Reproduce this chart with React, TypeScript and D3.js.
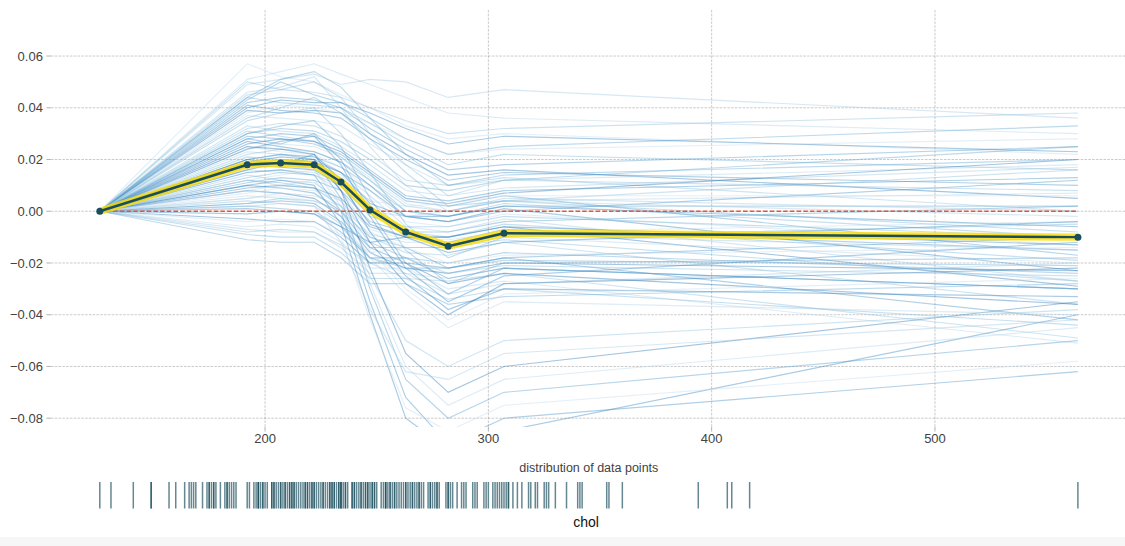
import React, { useEffect } from "react";
import * as d3 from "d3";

// ---------- DATA ----------
const featureName = "chol";
const gridPoints = [126, 192, 207, 222, 234, 247, 263, 282, 307, 564];
const xTicks = [200, 300, 400, 500];
const yTicks = [-0.08, -0.06, -0.04, -0.02, 0.0, 0.02, 0.04, 0.06];

// PDP (average) line
const pdpValues = [0.0, 0.018, 0.0187, 0.018, 0.0113, 0.0005, -0.008, -0.0135, -0.0085, -0.01];

// ICE lines (centered), in thousandths (x 1e-3), one row per instance
const iceLinesMilli = [
  [0, 57, 52, 50, 45, 40, 33, 28, 30, 22],
  [0, 51, 54, 57, 53, 49, 44, 38, 36, 30],
  [0, 49, 51, 53, 49, 51, 50, 44, 47, 36],
  [0, 45, 47, 46, 44, 40, 35, 30, 32, 38],
  [0, 44, 42, 41, 40, 34, 26, 18, 22, 16],
  [0, 43, 50, 45, 42, 36, 28, 22, 25, 33],
  [0, 42, 44, 43, 40, 32, 24, 16, 18, 25],
  [0, 41, 39, 38, 36, 28, 20, 12, 15, 10],
  [0, 40, 43, 42, 42, 38, 32, 26, 29, 23],
  [0, 39, 38, 39, 38, 30, 22, 14, 16, 5],
  [0, 38, 41, 40, 38, 34, 28, 22, 24, 28],
  [0, 37, 36, 35, 33, 26, 18, 10, 12, 18],
  [0, 33, 31, 30, 25, 18, 8, 6, 9, 17],
  [0, 32, 34, 33, 29, 22, 12, 10, 13, 0],
  [0, 31, 29, 27, 21, 12, 0, -2, 3, -10],
  [0, 30, 32, 31, 27, 20, 10, 8, 12, 25],
  [0, 29, 28, 26, 22, 14, 4, 2, 6, -17],
  [0, 28, 30, 29, 24, 16, 6, 4, 8, 13],
  [0, 27, 25, 23, 19, 10, -2, -4, 1, -23],
  [0, 26, 28, 27, 23, 15, 5, 3, 7, 20],
  [0, 25, 23, 22, 17, 8, -4, -6, -1, -13],
  [0, 24, 26, 25, 21, 13, 3, 0, 4, 7],
  [0, 23, 22, 21, 15, 6, -6, -8, -3, -27],
  [0, 22, 24, 23, 19, 12, 2, 0, 4, 16],
  [0, 21, 20, 19, 13, 4, -8, -10, -5, -19],
  [0, 20, 22, 21, 17, 10, 0, -2, 2, 2],
  [0, 19, 18, 17, 11, 2, -10, -12, -7, -15],
  [0, 18, 20, 19, 15, 8, -2, -4, 0, 12],
  [0, 19, 21, 20, 15, 3, -2, -2, 2, -6],
  [0, 18, 17, 16, 10, -5, -10, -10, -6, -29],
  [0, 17, 19, 18, 14, 4, 2, 3, 6, 6],
  [0, 16, 15, 14, 8, -8, -14, -14, -10, -20],
  [0, 15, 16, 15, 11, 0, -2, 0, 4, -2],
  [0, 14, 12, 11, 4, -10, -16, -17, -12, -36],
  [0, 13, 15, 14, 10, -2, -6, -6, -2, -10],
  [0, 12, 11, 9, 2, -12, -18, -20, -16, -24],
  [0, 11, 13, 12, 8, -4, -8, -8, -4, 2],
  [0, 10, 9, 7, 0, -14, -20, -22, -18, -42],
  [0, 9, 10, 9, 5, -6, -10, -10, -6, -13],
  [0, 8, 7, 5, -2, -16, -22, -24, -20, -23],
  [0, 7, 9, 8, 4, -7, -11, -11, -8, -4],
  [0, 6, 5, 3, -4, -18, -24, -26, -22, -30],
  [0, 5, 7, 6, 2, -9, -12, -12, -9, -15],
  [0, 4, 3, 2, -5, -20, -26, -27, -24, -49],
  [0, 3, 5, 4, 0, -10, -14, -14, -11, -27],
  [0, 2, 1, 0, -6, -18, -22, -22, -19, -21],
  [0, 3, 4, 3, -4, -14, -14, -22, -18, -10],
  [0, 1, 0, -1, -8, -18, -18, -26, -22, -30],
  [0, -1, 0, -1, -6, -12, -10, -16, -12, -4],
  [0, -3, -4, -4, -10, -20, -20, -28, -24, -36],
  [0, -4, -3, -4, -9, -16, -14, -20, -17, -14],
  [0, -6, -5, -6, -12, -22, -22, -30, -27, -51],
  [0, -7, -8, -8, -14, -24, -24, -32, -28, -20],
  [0, -8, -7, -8, -13, -20, -18, -24, -21, -25],
  [0, -9, -10, -10, -16, -26, -26, -34, -30, -44],
  [0, -11, -12, -12, -18, -28, -28, -36, -33, -28],
  [0, 20, 22, 20, 5, -30, -65, -80, -70, -50],
  [0, 15, 16, 14, 0, -35, -72, -90, -80, -62],
  [0, 10, 12, 10, -5, -40, -80, -92, -85, -40],
  [0, 25, 24, 22, 8, -22, -55, -70, -60, -35],
  [0, 5, 6, 4, -10, -42, -76, -85, -75, -58],
  [0, 18, 18, 16, 2, -28, -60, -75, -65, -45],
  [0, 2, 3, 2, -12, -38, -62, -65, -55, -42],
  [0, 12, 10, 9, -2, -25, -50, -60, -50, -38],
  [0, 35, 38, 40, 30, 15, -5, -18, -10, -5],
  [0, 30, 33, 35, 25, 5, -15, -28, -20, -18],
  [0, 28, 26, 30, 20, 0, -20, -32, -22, -30],
  [0, 24, 27, 29, 18, -2, -22, -35, -25, -12],
  [0, 20, 18, 22, 12, -8, -25, -38, -30, -33],
  [0, 16, 19, 20, 8, -12, -28, -40, -28, -22],
  [0, 12, 14, 16, 4, -15, -30, -42, -32, -26],
  [0, 8, 10, 12, 0, -18, -32, -45, -35, -40],
  [0, 46, 48, 52, 40, 25, 10, 0, 5, 0],
  [0, 50, 47, 50, 44, 30, 18, 6, 12, 8],
  [0, 36, 40, 44, 38, 28, 15, 2, 4, -8],
  [0, 44, 51, 54, 48, 36, 22, 10, 14, 20],
];

// observed chol values (rug / distribution of data points)
const cholValues = [
  126, 131, 141, 149, 149, 157, 160, 164, 166, 167, 168, 169, 172, 174, 175, 175, 176, 177, 177, 178,
  180, 182, 183, 183, 184, 185, 186, 187, 192, 193, 195, 196, 197, 197, 197, 198, 199, 199, 200, 201,
  203, 203, 204, 204, 205, 206, 207, 207, 208, 209, 209, 210, 211, 211, 212, 212, 213, 213, 214, 215,
  216, 217, 218, 218, 219, 219, 220, 221, 221, 222, 222, 223, 224, 225, 226, 226, 227, 228, 229, 229,
  230, 230, 231, 231, 232, 233, 233, 234, 234, 234, 235, 236, 236, 237, 239, 239, 240, 240, 241, 242,
  243, 243, 244, 245, 245, 246, 246, 247, 248, 248, 249, 249, 250, 252, 253, 254, 254, 254, 255, 256,
  256, 257, 258, 258, 259, 260, 261, 262, 263, 263, 264, 265, 266, 266, 267, 268, 269, 269, 270, 271,
  273, 274, 274, 275, 276, 277, 277, 278, 281, 282, 282, 283, 284, 286, 288, 289, 290, 293, 294, 295,
  298, 299, 300, 302, 303, 304, 305, 306, 307, 308, 309, 309, 311, 313, 315, 318, 319, 321, 322, 325,
  326, 327, 330, 335, 340, 341, 342, 353, 354, 360, 394, 407, 409, 417, 564,
];

// ---------- LAYOUT ----------
const W = 1125;
const H = 546;
const plotLeft = 50.9;
const plotRight = 1126.8;
const plotTop = 10;
const plotBottom = 427;
const xDomain = [104.1, 585.9];
const yDomain = [-0.0834, 0.0778];

const PDP_COLOR = "#1A4E5D";
const PDP_HL = "#FEDC00";
const ZERO_COLOR = "#E75438";
const TEXT_COLOR = "#424242";
const TICK_COLOR = "#9E9E9E";
const FONT = "'Liberation Sans', Arial, Helvetica, sans-serif";

export default function App() {
  useEffect(() => {
    document.body.style.margin = "0";
  }, []);

  const x = d3.scaleLinear().domain(xDomain).range([plotLeft, plotRight]);
  const y = d3.scaleLinear().domain(yDomain).range([plotBottom, plotTop]);
  const fmt = d3.format(".2f");

  const line = d3
    .line<number>()
    .x((_, i) => x(gridPoints[i]))
    .y((d) => y(d));

  const blues = d3.range(20).map((i) => d3.interpolateBlues(i / 19)).slice(5, 15);

  return (
    <svg width={W} height={H} style={{ display: "block", position: "absolute", left: 0, top: 0 }}>
      <defs>
        <clipPath id="plotClip">
          <rect x={plotLeft} y={plotTop} width={plotRight - plotLeft} height={plotBottom - plotTop} />
        </clipPath>
      </defs>
      <rect x={0} y={0} width={W} height={H} fill="#ffffff" />
      <rect x={0} y={537} width={W} height={H - 537} fill="#f6f6f6" />

      {/* grid */}
      <g>
        {yTicks.map((t) => (
          <line key={"gy" + t} x1={plotLeft} x2={plotRight} y1={y(t)} y2={y(t)}
            stroke="#000" strokeOpacity={0.3} strokeWidth={0.7} strokeDasharray="2.6,1.2" />
        ))}
        {xTicks.map((t) => (
          <line key={"gx" + t} x1={x(t)} x2={x(t)} y1={plotTop} y2={plotBottom}
            stroke="#000" strokeOpacity={0.3} strokeWidth={0.7} strokeDasharray="2.6,1.2" />
        ))}
      </g>

      {/* ticks & labels */}
      <g fontFamily={FONT} fontSize={13} fill={TEXT_COLOR}>
        {yTicks.map((t) => (
          <g key={"ty" + t}>
            <line x1={plotLeft - 4.5} x2={plotLeft} y1={y(t)} y2={y(t)} stroke={TICK_COLOR} strokeWidth={0.8} />
            <text x={plotLeft - 8} y={y(t)} dy="0.35em" textAnchor="end">{fmt(t)}</text>
          </g>
        ))}
        {xTicks.map((t) => (
          <g key={"tx" + t}>
            <line x1={x(t)} x2={x(t)} y1={plotBottom} y2={plotBottom + 4.5} stroke={TICK_COLOR} strokeWidth={0.8} />
            <text x={x(t)} y={plotBottom + 16} textAnchor="middle">{t}</text>
          </g>
        ))}
      </g>

      {/* ICE lines */}
      <g clipPath="url(#plotClip)">
        {iceLinesMilli.map((row, i) => (
          <path key={"ice" + i} d={line(row.map((v) => v / 1000)) || ""} fill="none"
            stroke={blues[i % 10]} strokeOpacity={0.42} strokeWidth={1.15} />
        ))}
        {/* zero line */}
        <line x1={x(gridPoints[0])} x2={x(gridPoints[gridPoints.length - 1])} y1={y(0)} y2={y(0)}
          stroke={ZERO_COLOR} strokeWidth={1.5} strokeDasharray="4.5,2.2" />
        {/* PDP highlight + line + markers */}
        <path d={line(pdpValues) || ""} fill="none" stroke={PDP_HL} strokeOpacity={0.8}
          strokeWidth={7.5} strokeLinejoin="round" />
        <path d={line(pdpValues) || ""} fill="none" stroke={PDP_COLOR} strokeWidth={2.5}
          strokeLinejoin="round" />
        {pdpValues.map((v, i) => (
          <circle key={"m" + i} cx={x(gridPoints[i])} cy={y(v)} r={3.5} fill={PDP_COLOR} />
        ))}
      </g>

      {/* distribution of data points */}
      <text x={(plotLeft + plotRight) / 2} y={472} textAnchor="middle" fontFamily={FONT}
        fontSize={12.5} fill={TEXT_COLOR}>distribution of data points</text>
      <g>
        {cholValues.map((v, i) => (
          <line key={"r" + i} x1={x(v)} x2={x(v)} y1={482} y2={508.5}
            stroke={PDP_COLOR} strokeOpacity={0.68} strokeWidth={1.5} />
        ))}
      </g>
      <text x={586} y={527} textAnchor="middle" fontFamily={FONT} fontSize={14} fill="#111">
        {featureName}
      </text>
    </svg>
  );
}
